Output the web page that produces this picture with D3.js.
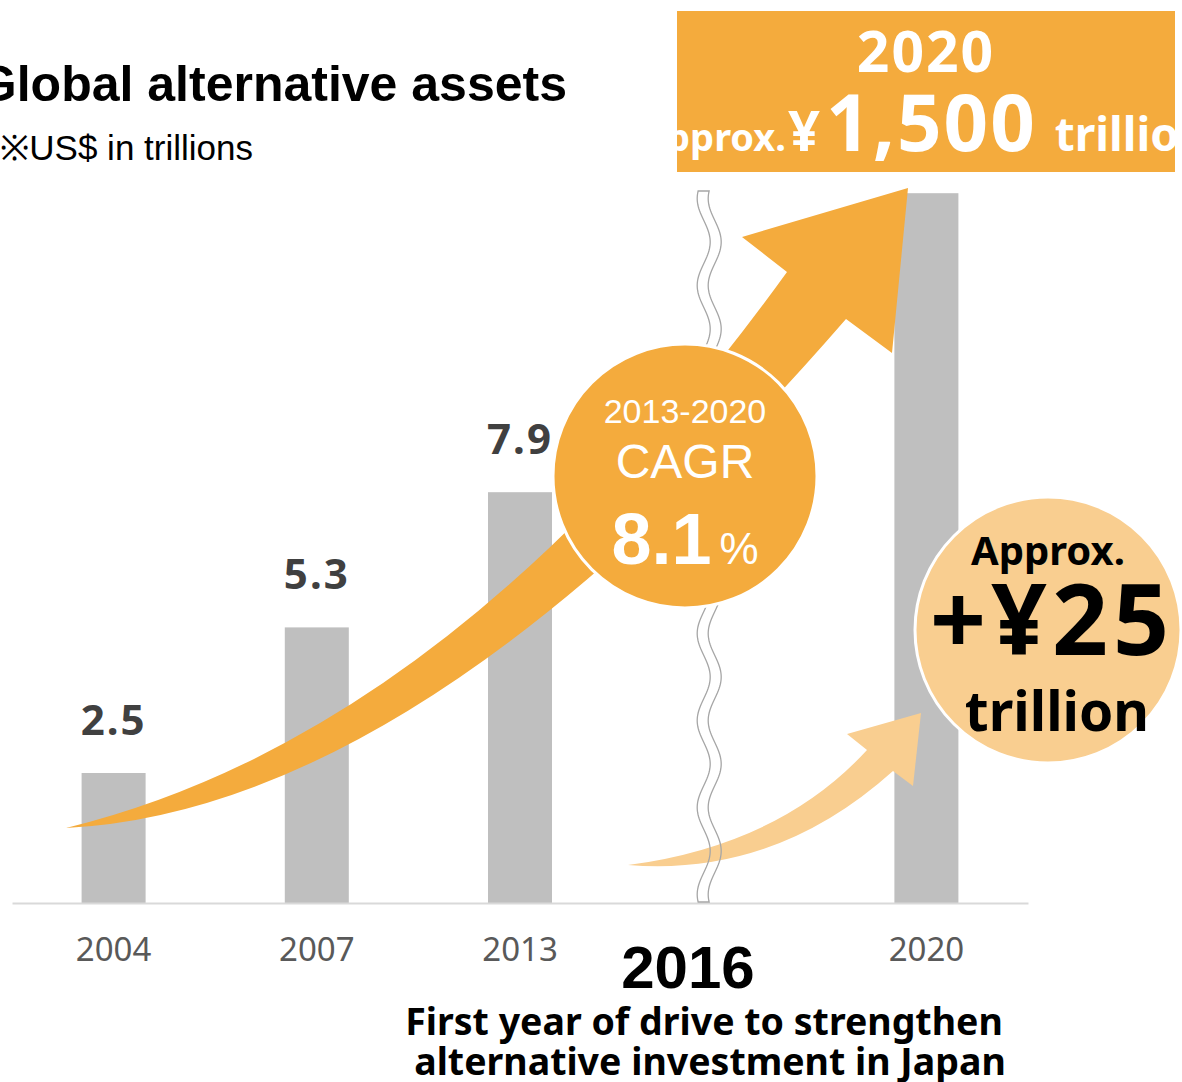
<!DOCTYPE html>
<html>
<head>
<meta charset="utf-8">
<script src="https://cdn.jsdelivr.net/npm/d3@7"></script>
<style>
  body { margin: 0; background: #fff; }
  svg { display: block; }
</style>
</head>
<body>
<svg width="1182" height="1082"></svg>
<script>
// chart values
var categories = ["2004", "2007", "2013", "2016", "2020"];
var values = [2.5, 5.3, 7.9, null, 13.65];
var valueLabels = ["2.5", "5.3", "7.9", "", ""];
var tickLabels = ["2004", "2007", "2013", "", "2020"];

var orange = "#F4AB3D", light = "#F9CE90", grey = "#BFBFBF";
var jpFont = "'Noto Sans', 'DejaVu Sans', sans-serif";
var arial = "'Liberation Sans', Arial, sans-serif";

var svg = d3.select("svg");

var x = d3.scaleBand()
  .domain(categories)
  .range([12, 1028])
  .paddingInner(0.685)
  .paddingOuter(0.3425);

var y = d3.scaleLinear().domain([0, 10]).range([903, 383]);

// title
svg.append("text")
  .attr("x", 567).attr("y", 101)
  .attr("text-anchor", "end")
  .style("font", "bold 50px " + arial)
  .text("Global alternative assets");
svg.append("text")
  .attr("x", 253).attr("y", 160)
  .attr("text-anchor", "end")
  .style("font", "35px " + arial)
  .text("※US$ in trillions");

// bars
var rows = categories.map(function (c, i) { return { cat: c, v: values[i], label: valueLabels[i] }; });
svg.append("g").selectAll("rect")
  .data(rows.filter(function (d) { return d.v != null; }))
  .enter().append("rect")
  .attr("x", function (d) { return x(d.cat); })
  .attr("y", function (d) { return y(d.v); })
  .attr("width", x.bandwidth())
  .attr("height", function (d) { return y(0) - y(d.v); })
  .attr("fill", grey);

svg.append("g").selectAll("text")
  .data(rows.filter(function (d) { return d.label; }))
  .enter().append("text")
  .attr("x", function (d) { return x(d.cat) + x.bandwidth() / 2; })
  .attr("y", function (d) { return y(d.v) - 38; })
  .attr("text-anchor", "middle")
  .attr("fill", "#404040")
  .style("font", "bold 42px " + jpFont)
  .style("letter-spacing", "2px")
  .text(function (d) { return d.label; });

// axis
var xAxis = d3.axisBottom(x)
  .tickSize(0)
  .tickPadding(35)
  .tickFormat(function (d, i) { return tickLabels[i]; });
var gx = svg.append("g")
  .attr("transform", "translate(0," + y(0) + ")")
  .call(xAxis);
gx.select(".domain").attr("stroke", "#D9D9D9").attr("stroke-width", 2);
gx.selectAll("text")
  .attr("fill", "#595959")
  .style("font", "33px " + jpFont);

// big growth arrow
var big = d3.path();
big.moveTo(66, 828);
big.quadraticCurveTo(454, 733, 787, 272);
big.lineTo(742, 237);
big.lineTo(908, 188);
big.lineTo(892, 353);
big.lineTo(846, 319);
big.quadraticCurveTo(420, 810, 66, 828);
big.closePath();
svg.append("path").attr("d", big.toString()).attr("fill", orange);

// small arrow
var small = d3.path();
small.moveTo(628, 865);
small.quadraticCurveTo(780, 845, 867, 750);
small.lineTo(847, 734);
small.lineTo(921, 713);
small.lineTo(913, 786);
small.lineTo(893, 771);
small.quadraticCurveTo(775, 877, 628, 865);
small.closePath();
svg.append("path").attr("d", small.toString()).attr("fill", light);

// axis break (wavy double line)
var waveX = x("2016") + x.bandwidth() / 2 - 19.5;
var wy = d3.range(191, 903, 2).concat([902]);
var waveL = wy.map(function (v) { return [waveX + 6.5 * Math.cos(2 * Math.PI * (v - 677) / 87), v]; });
var waveR = waveL.map(function (p) { return [p[0] + 11, p[1]]; }).reverse();
var wave = waveL.concat(waveR);
svg.append("path")
  .attr("d", d3.line()(wave) + "Z")
  .attr("fill", "none")
  .attr("stroke", "#A6A6A6")
  .attr("stroke-width", 1.3);

// CAGR circle
svg.append("circle")
  .attr("cx", 685).attr("cy", 476).attr("r", 132)
  .attr("fill", orange).attr("stroke", "#fff").attr("stroke-width", 3);
var cg = svg.append("g").attr("fill", "#fff").attr("text-anchor", "middle");
cg.append("text").attr("x", 685).attr("y", 423)
  .style("font", "34px " + arial).text("2013-2020");
cg.append("text").attr("x", 685).attr("y", 478)
  .style("font", "48px " + arial).text("CAGR");
var pct = cg.append("text").attr("x", 685).attr("y", 564);
pct.append("tspan").style("font", "bold 72px " + arial).text("8.1");
pct.append("tspan").attr("dx", 8).style("font", "44px " + arial).text("%");

// Approx circle
svg.append("circle")
  .attr("cx", 1048).attr("cy", 630).attr("r", 133)
  .attr("fill", light).attr("stroke", "#fff").attr("stroke-width", 3);
var ag = svg.append("g").attr("fill", "#000").attr("text-anchor", "middle");
ag.append("text").attr("x", 1048).attr("y", 565)
  .style("font", "bold 40px " + jpFont).text("Approx.");
ag.append("text").attr("x", 1052).attr("y", 655)
  .style("font", "bold 98px " + jpFont).style("letter-spacing", "5px").text("+¥25");
ag.append("text").attr("x", 1057).attr("y", 731)
  .style("font", "bold 55px " + jpFont).text("trillion");

// top banner
svg.append("defs").append("clipPath").attr("id", "boxclip")
  .append("rect").attr("x", 677).attr("y", 11).attr("width", 498).attr("height", 161);
svg.append("rect")
  .attr("x", 677).attr("y", 11).attr("width", 498).attr("height", 161)
  .attr("fill", orange);
svg.append("text")
  .attr("x", 926).attr("y", 72)
  .attr("text-anchor", "middle")
  .attr("fill", "#fff")
  .style("font", "bold 57px " + jpFont)
  .style("letter-spacing", "2px")
  .text("2020");
var line2 = svg.append("g").attr("clip-path", "url(#boxclip)")
  .append("text").attr("y", 151).attr("fill", "#fff");
var t1 = line2.append("tspan").style("font", "bold 38px " + jpFont).text("Approx.");
line2.append("tspan").attr("dx", 2).style("font", "bold 56px " + jpFont).text("¥");
line2.append("tspan").attr("dx", 6).style("font", "bold 78px " + jpFont).style("letter-spacing", "2px").text("1,500");
line2.append("tspan").attr("dx", 6).style("font", "bold 46px " + jpFont).text(" trillion");
line2.attr("x", 786 - t1.node().getComputedTextLength());

// 2016 note
svg.append("text")
  .attr("x", 688).attr("y", 988)
  .attr("text-anchor", "middle")
  .style("font", "bold 60px " + arial)
  .text("2016");
var note = svg.append("g").attr("text-anchor", "middle").style("font", "bold 37.5px " + jpFont);
note.append("text").attr("x", 704).attr("y", 1035).text("First year of drive to strengthen");
note.append("text").attr("x", 710).attr("y", 1075).text("alternative investment in Japan");
</script>
</body>
</html>
